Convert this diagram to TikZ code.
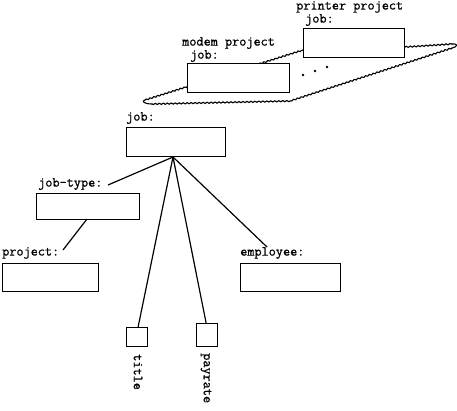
\documentclass[tikz,border=0pt]{standalone}
\usepackage{fontspec}
\newfontfamily\lbfont[FakeBold=0.8]{Latin Modern Mono}
\usetikzlibrary{decorations.pathmorphing}
\begin{document}
\begin{tikzpicture}[x=1bp,y=-1bp,
  box/.style={draw, line width=1.3pt, fill=white, inner sep=0, minimum width=#1},
  box/.default=100,
  lbl/.style={font=\lbfont\fontsize{13.9}{14}\selectfont, inner sep=0, anchor=west},
  vlbl/.style={font=\lbfont\fontsize{13.9}{14}\selectfont, inner sep=0, anchor=west, rotate=-90},
  conn/.style={line width=1.2pt},
  edge/.style={line width=1.1pt, line cap=round},
  plane/.style={edge, decorate, decoration={snake, amplitude=0.6, segment length=4}},
  dot/.style={circle, fill=black, inner sep=0, minimum size=2.8}]
\useasboundingbox (0,0) rectangle (457,410);
% plane
\coordinate (pl) at (145,100);
\coordinate (pb) at (303,50);
\coordinate (pm) at (405,47);
\coordinate (pr) at (452,44);
\coordinate (pr2) at (452,48);
\coordinate (pf) at (290,101);
\coordinate (pl2) at (152,104);
\draw[plane] (pl) -- (pb);
\draw[plane] (pb) -- (pm);
\draw[plane] (pm) -- (pr);
\draw[plane] (pr2) -- (pf);
\draw[plane] (pf) -- (pl2);
\draw[edge] (pr) .. controls (458,43) and (458,47) .. (pr2);
\draw[edge] (pl2) .. controls (144,104) and (141,101) .. (pl);
% top boxes
\node[box=101, minimum height=29, anchor=north west] (printer) at (303,28) {};
\node[box=102, minimum height=29, anchor=north west] (modem) at (187,63) {};
\node[lbl] (printerl) at (296,7) {printer project};
\node[lbl] (printerj) at (305,20) {job:};
\node[lbl] (modeml) at (182,43) {modem project};
\node[lbl] (modemj) at (190,56) {job:};
\node[dot] (d1) at (303,75) {};
\node[dot] (d2) at (315,71) {};
\node[dot] (d3) at (327,67) {};
% main tree
\node[box=99, minimum height=29, anchor=north west] (job) at (126,127) {};
\node[lbl] (jobl) at (126,118) {job:};
\node[box=103, minimum height=26, anchor=north west] (jt) at (36,193) {};
\node[lbl] (jtl) at (38,184) {job-type:};
\node[box=96, minimum height=28, anchor=north west] (proj) at (2,263) {};
\node[lbl] (projl) at (2,253) {project:};
\node[box=100, minimum height=28, anchor=north west] (emp) at (240,263) {};
\node[lbl] (empl) at (240,253) {employee:};
\node[box=21, minimum height=19, anchor=north west] (title) at (126,327) {};
\node[box=21, minimum height=23, anchor=north west] (pay) at (196,323) {};
\node[vlbl] (titlel) at (138,354) {title};
\node[vlbl] (payl) at (206,353) {payrate};
\coordinate (apex) at (173,157);
\coordinate (jtend) at (108,185);
\coordinate (jtbot) at (87,219);
\coordinate (projend) at (63,250);
\coordinate (empend) at (267,247);
\draw[conn] (apex) -- (jtend);
\draw[conn] (jtbot) -- (projend);
\draw[conn] (apex) -- (empend);
\draw[conn] (apex) -- ([xshift=1]title.north);
\draw[conn] (apex) -- ([xshift=-1]pay.north);
\end{tikzpicture}
\end{document}
